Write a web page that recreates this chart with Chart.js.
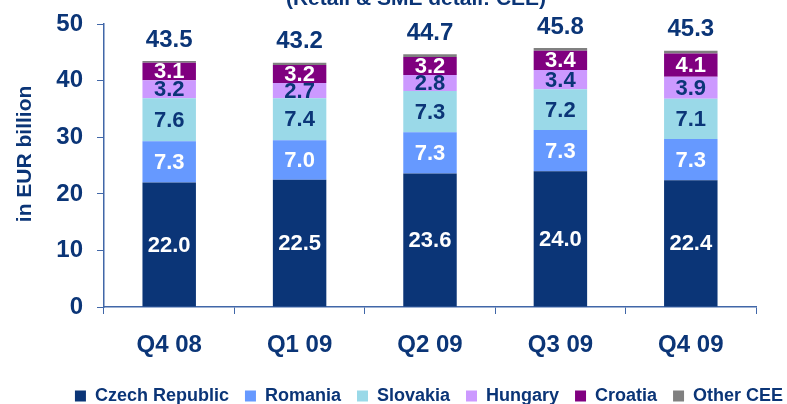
<!DOCTYPE html>
<html>
<head>
<meta charset="utf-8">
<script src="https://cdn.jsdelivr.net/npm/chart.js@4/dist/chart.umd.min.js"></script>
<style>
  html, body { margin: 0; padding: 0; background: #fff; overflow: hidden; }
  body { width: 787px; height: 404px; position: relative; }
  #wrap { position: absolute; left: 0; top: -14px; width: 787px; height: 429px; }
</style>
</head>
<body>
<div id="wrap"><canvas id="chart"></canvas></div>
<script>
const quarters = ['Q4 08', 'Q1 09', 'Q2 09', 'Q3 09', 'Q4 09'];
const czech = [22.0, 22.5, 23.6, 24.0, 22.4];
const romania = [7.3, 7.0, 7.3, 7.3, 7.3];
const slovakia = [7.6, 7.4, 7.3, 7.2, 7.1];
const hungary = [3.2, 2.7, 2.8, 3.4, 3.9];
const croatia = [3.1, 3.2, 3.2, 3.4, 4.1];
const otherCee = [0.3, 0.4, 0.5, 0.5, 0.5];
const totals = ['43.5', '43.2', '44.7', '45.8', '45.3'];
const yTicks = [0, 10, 20, 30, 40, 50];

const NAVY = '#0B3577';
const AXIS = '#4167A8';
const FONT = "'Liberation Sans', Arial, sans-serif";

// white labels on dark segments, navy on the light ones, none on Other CEE
const labelColors = ['#ffffff', '#ffffff', NAVY, NAVY, '#ffffff', null];

const barLabels = {
  id: 'barLabels',
  afterDatasetsDraw(chart) {
    const ctx = chart.ctx;
    ctx.save();
    ctx.textAlign = 'center';
    ctx.textBaseline = 'middle';
    chart.data.datasets.forEach((ds, i) => {
      const color = labelColors[i];
      if (!color) return;
      ctx.fillStyle = color;
      ctx.font = `bold 22px ${FONT}`;
      chart.getDatasetMeta(i).data.forEach((bar, j) => {
        ctx.fillText(ds.data[j].toFixed(1), bar.x, (bar.y + bar.base) / 2 + 1);
      });
    });
    const top = chart.getDatasetMeta(chart.data.datasets.length - 1).data;
    ctx.fillStyle = NAVY;
    ctx.font = `bold 24px ${FONT}`;
    top.forEach((bar, j) => ctx.fillText(totals[j], bar.x, bar.y - 21));
    ctx.restore();
  },
};

// legend and title sit right of the canvas centre in the original
const nudgeBoxes = {
  id: 'nudgeBoxes',
  afterLayout(chart) {
    chart.legend.left += 51;
    chart.legend.right += 51;
    chart.titleBlock.left += 38;
    chart.titleBlock.right += 38;
  },
};

function series(label, data, color) {
  return { label, data, backgroundColor: color, borderWidth: 0, barPercentage: 0.41, categoryPercentage: 1 };
}

new Chart(document.getElementById('chart'), {
  type: 'bar',
  data: {
    labels: quarters,
    datasets: [
      series('Czech Republic', czech, '#0B3577'),
      series('Romania', romania, '#6699FF'),
      series('Slovakia', slovakia, '#9AD9E8'),
      series('Hungary', hungary, '#CC99FF'),
      series('Croatia', croatia, '#800080'),
      series('Other CEE', otherCee, '#808080'),
    ],
  },
  options: {
    responsive: true,
    maintainAspectRatio: false,
    animation: false,
    layout: { padding: { right: 31 } },
    plugins: {
      title: {
        display: true,
        text: '(Retail & SME detail: CEE)',
        color: NAVY,
        font: { family: FONT, size: 21, weight: 'bold' },
        padding: { top: 1, bottom: 12 },
      },
      legend: {
        position: 'bottom',
        labels: {
          boxWidth: 11,
          boxHeight: 11,
          padding: 16,
          color: NAVY,
          font: { family: FONT, size: 18, weight: 'bold' },
        },
      },
      tooltip: { enabled: false },
    },
    scales: {
      x: {
        stacked: true,
        grid: { drawOnChartArea: false, tickLength: 7, tickColor: AXIS, offset: true },
        border: { color: AXIS, width: 1.5 },
        ticks: { color: NAVY, padding: 17, font: { family: FONT, size: 24, weight: 'bold' } },
        afterFit: (scale) => { scale.height = 64; },
      },
      y: {
        stacked: true,
        min: 0,
        max: 50,
        afterBuildTicks: (scale) => { scale.ticks = yTicks.map((v) => ({ value: v })); },
        grid: { drawOnChartArea: false, tickLength: 7, tickColor: AXIS },
        border: { color: AXIS, width: 1.5 },
        ticks: { color: NAVY, padding: 14, font: { family: FONT, size: 24, weight: 'bold' } },
        title: {
          display: true,
          // leading spaces lift the title a little, as in the original
          text: '\u00a0\u00a0\u00a0\u00a0in EUR billion',
          color: NAVY,
          padding: { top: 13, bottom: 0 },
          font: { family: FONT, size: 21, weight: 'bold' },
        },
        afterFit: (scale) => { scale.width = 104; },
      },
    },
  },
  plugins: [barLabels, nudgeBoxes],
});
</script>
</body>
</html>
